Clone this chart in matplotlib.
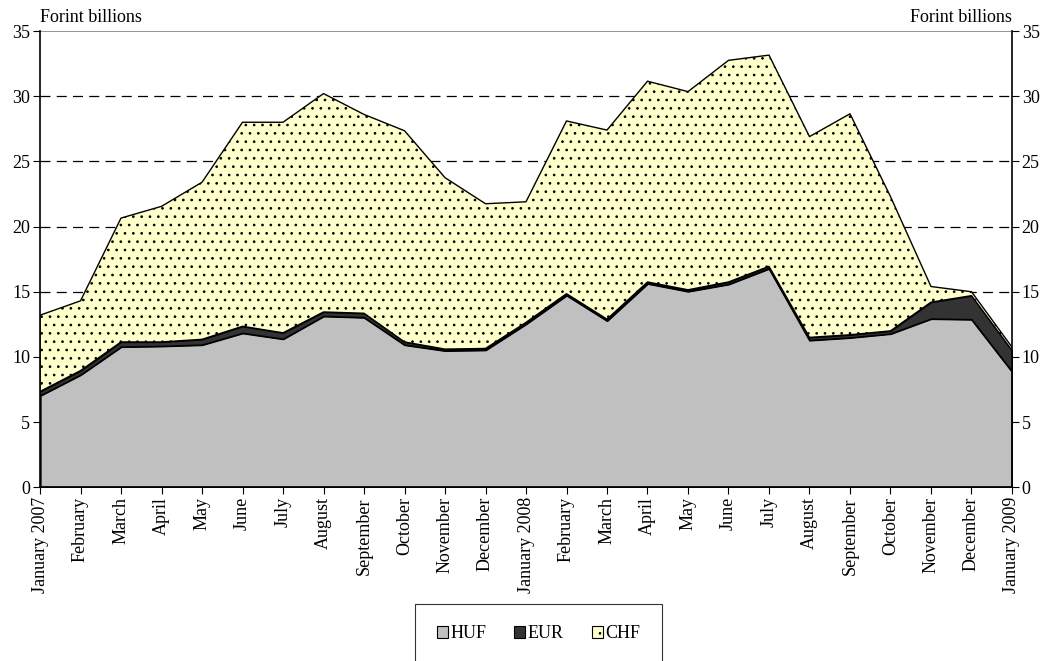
import numpy as np
import matplotlib
matplotlib.use("Agg")
import matplotlib.pyplot as plt

# values in forint billions
months = ["January 2007", "February", "March", "April", "May", "June", "July",
          "August", "September", "October", "November", "December",
          "January 2008", "February", "March", "April", "May", "June", "July",
          "August", "September", "October", "November", "December",
          "January 2009"]
huf = [7.05, 8.65, 10.8, 10.85, 10.95, 11.85, 11.4, 13.15, 13.05, 10.95, 10.5, 10.55,
       12.55, 14.75, 12.8, 15.65, 15.05, 15.6, 16.8, 11.3, 11.5, 11.8, 12.95, 12.9, 8.9]
eur = [0.3, 0.3, 0.35, 0.3, 0.4, 0.5, 0.45, 0.3, 0.3, 0.2, 0.1, 0.1,
       0.1, 0.1, 0.1, 0.1, 0.1, 0.15, 0.15, 0.2, 0.2, 0.2, 1.25, 1.8, 1.6]
chf = [5.85, 5.35, 9.5, 10.4, 12.05, 15.65, 16.15, 16.75, 15.25, 16.2, 13.15, 11.1,
       9.25, 13.25, 14.5, 15.4, 15.2, 17.0, 16.2, 15.4, 16.95, 10.3, 1.2, 0.3, 0.25]

plt.rcParams["font.family"] = ["Liberation Serif", "DejaVu Serif"]
plt.rcParams["font.size"] = 13
plt.rcParams["hatch.linewidth"] = 0.7

fig = plt.figure(figsize=(10.42, 6.61), dpi=100)
ax = fig.add_axes([0.0384, 0.2628, 0.9328, 0.6903])

x = np.arange(len(months))
polys = ax.stackplot(x, huf, eur, chf,
                     colors=["#c0c0c0", "#333333", "#ffffcc"],
                     edgecolor="black", linewidth=1.0, zorder=2)
polys[2].set_hatch("..")
polys[0].set_linewidth(1.6)

ax.set_xlim(0, len(months) - 1)
ax.set_ylim(0, 35)
ax.set_yticks(range(0, 36, 5))
ax.set_xticks(x)
ax.set_xticklabels(months, rotation=90)

for v in range(5, 35, 5):
    ax.axhline(v, color="black", lw=0.9, ls=(0, (8, 5)), zorder=1)
ax.axhline(35, color="#808080", lw=1.2, zorder=1)

ax.spines["top"].set_visible(False)
for s in ["left", "right", "bottom"]:
    ax.spines[s].set_linewidth(1.2)

ax.tick_params(axis="y", which="both", left=True, right=True,
               labelleft=True, labelright=True, direction="out", length=5, pad=2)
ax.tick_params(axis="x", direction="out", length=5, pad=2)

ax.text(0, 1.012, "Forint billions", transform=ax.transAxes, ha="left", va="bottom")
ax.text(1, 1.012, "Forint billions", transform=ax.transAxes, ha="right", va="bottom")

leg = fig.legend(polys, ["HUF", "EUR", "CHF"], loc="center",
                 bbox_to_anchor=(0.517, 0.041), ncol=3, frameon=True,
                 fancybox=False, edgecolor="black", handlelength=0.6,
                 handleheight=0.6, handletextpad=0.15, columnspacing=1.55,
                 borderpad=1.2, borderaxespad=0, fontsize=13)
leg.get_frame().set_linewidth(0.8)
for h in leg.legend_handles:
    h.set_linewidth(0.8)

fig.savefig("out.png", dpi=100)
